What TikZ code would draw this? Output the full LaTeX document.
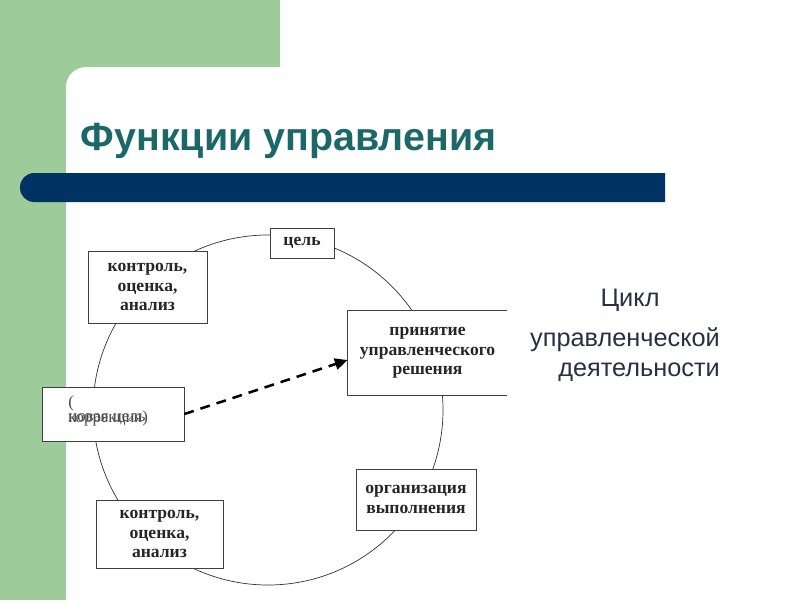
\documentclass[tikz,border=0pt]{standalone}
\usepackage{fontspec}
\setmainfont{Liberation Serif}
\newfontfamily\sansfont{Liberation Sans}
\usetikzlibrary{arrows.meta,positioning}
\definecolor{slidegreen}{RGB}{157,203,154}
\definecolor{barblue}{RGB}{0,50,100}
\definecolor{titleteal}{RGB}{28,104,104}
\definecolor{notegray}{RGB}{40,48,66}

\begin{document}
\begin{tikzpicture}[x=0.025cm, y=-0.025cm,
  func/.style={draw=black!75, fill=white, line width=0.6pt, align=center, inner sep=0pt,
               font=\fontsize{12.5}{14}\selectfont\bfseries, text=black!85},
  ring/.style={draw=black!80, line width=0.5pt},
  arr/.style={-{Triangle[length=9pt,width=8pt]}, line width=1.8pt, dash pattern=on 7pt off 5pt},
  side/.style={font=\sansfont\fontsize{18}{22}\selectfont, text=notegray}
]
\useasboundingbox (0,0) rectangle (800,600);
% slide background
\fill[white] (0,0) rectangle (800,600);
\fill[slidegreen] (0,0) rectangle (280,67);
\fill[slidegreen] (0,0) rectangle (66,600);
\fill[slidegreen] (66,67) rectangle (86,87);
\fill[white] (86,87) circle[radius=20];
\fill[barblue] (665,173) [rounded corners=10pt] -- (20,173) -- (20,202) [sharp corners] -- (665,202) -- cycle;
\node[anchor=west, font=\sansfont\bfseries\fontsize{28}{32}\selectfont, text=titleteal] (title) at (76,141) {Функции управления};

% cycle
\coordinate (c) at (268,410);
\draw[ring] (c) circle[radius=175];

\node[func, minimum width=1.6cm, minimum height=0.75cm] (goal) at (302,243) {цель};
\node[func, draw=none, minimum width=3.975cm, minimum height=2.1cm] (decision) at (427.5,353) {принятие\\управленческого\\решения};
\draw[black!75, line width=0.6pt] (decision.north east) -- (decision.north west) -- (decision.south west) -- (decision.south east);
\node[func, minimum width=3.0cm, minimum height=1.525cm] (org) at (416,499.5) {организация\\выполнения};
\node[func, minimum width=3.175cm, minimum height=1.7cm] (ctrlb) at (159.5,534) {контроль,\\оценка,\\анализ};
\node[func, minimum width=2.975cm, minimum height=1.8cm] (ctrlt) at (147.5,287) {контроль,\\оценка,\\анализ};
\node[func, minimum width=3.55cm, minimum height=1.35cm] (corr) at (113,414) {};
\node[anchor=north west, align=left, inner sep=0pt, text=black!70, font=\fontsize{12}{11}\selectfont] (corrtxt) at (68,395) {(\\коррекция)};
\node[anchor=north west, inner sep=0pt, text=black!70, font=\fontsize{12}{11}\selectfont] (newgoal) at (68,413) {новая цель};

\draw[arr] (corr.east) -- ([yshift=-5pt]decision.west);

% caption on the right
\node[side] (cikl) at (630,300) {Цикл};
\node[side] (upr) at (625,340) {управленческой};
\node[side] (deyat) at (639,372) {деятельности};
\end{tikzpicture}
\end{document}
